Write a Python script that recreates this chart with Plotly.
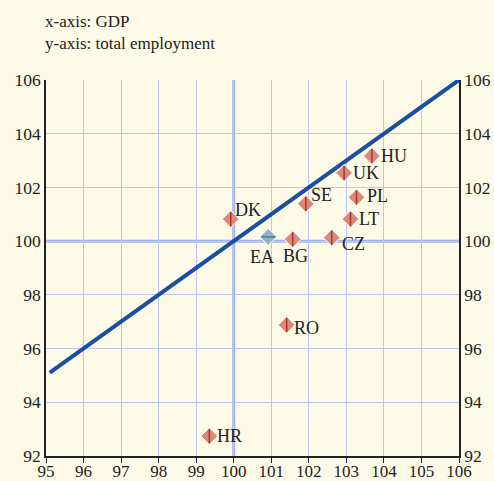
import plotly.graph_objects as go

countries = ["HU", "UK", "PL", "LT", "CZ", "SE", "DK", "BG", "RO", "HR"]
gdp = [103.68, 102.94, 103.27, 103.11, 102.61, 101.92, 99.92, 101.57, 101.41, 99.35]
employment = [103.17, 102.54, 101.63, 100.82, 100.13, 101.39, 100.82, 100.07, 96.88, 92.74]

ea_label = ["EA"]
ea_gdp = [100.92]
ea_employment = [100.16]

diag_x = [95.1, 106.0]
diag_y = [95.1, 106.0]

x_ticks = list(range(95, 107))
y_ticks = list(range(92, 107, 2))

# label offsets in pixels (xshift, yshift, xanchor)
label_offsets = {
    "HU": (7, 0, "left"), "UK": (7, 0, "left"), "PL": (8, 1, "left"),
    "LT": (7, 0, "left"), "CZ": (8, -6, "left"), "SE": (3, 9, "left"),
    "DK": (2, 9, "left"), "BG": (3, -17, "center"), "RO": (5, -3, "left"),
    "HR": (6, 0, "left"), "EA": (-6, -20, "center"),
}

BG = "#fdfbe7"
GRID = "#bcc6ef"
FONT = "Liberation Serif"

fig = go.Figure()

fig.add_trace(go.Scatter(x=diag_x, y=diag_y, mode="lines",
                         line=dict(color="#1a4ea3", width=4), hoverinfo="skip"))

fig.add_trace(go.Scatter(x=gdp, y=employment, mode="markers",
                         marker=dict(symbol="diamond", size=13, color="#da8a78",
                                     line=dict(color="white", width=1))))
fig.add_trace(go.Scatter(x=gdp, y=employment, mode="markers",
                         marker=dict(symbol="line-ns", size=10,
                                     line=dict(color="#b0322c", width=1.5))))
fig.add_trace(go.Scatter(x=ea_gdp, y=ea_employment, mode="markers",
                         marker=dict(symbol="diamond", size=13, color="#92b3c3",
                                     line=dict(color="white", width=1))))
fig.add_trace(go.Scatter(x=ea_gdp, y=ea_employment, mode="markers",
                         marker=dict(symbol="line-ew", size=10,
                                     line=dict(color="#4d7d92", width=1.5))))

for name, xv, yv in list(zip(countries, gdp, employment)) + list(zip(ea_label, ea_gdp, ea_employment)):
    xs, ys, xa = label_offsets[name]
    fig.add_annotation(x=xv, y=yv, text=name, showarrow=False, xanchor=xa, yanchor="middle",
                       xshift=xs, yshift=ys, font=dict(family=FONT, size=18, color="#222222"))

# emphasized 100 lines
fig.add_shape(type="line", x0=100, x1=100, y0=92, y1=106, xref="x", yref="y",
              line=dict(color="#a4b2ea", width=3), layer="below")
fig.add_shape(type="line", x0=95, x1=106, y0=100, y1=100, xref="x", yref="y",
              line=dict(color="#a4b2ea", width=3), layer="below")

fig.add_annotation(xref="paper", yref="paper", x=0, y=1 + 58 / 376, xanchor="left", yanchor="middle",
                   xshift=-3, text="x-axis: GDP", showarrow=False,
                   font=dict(family=FONT, size=17, color="#222222"))
fig.add_annotation(xref="paper", yref="paper", x=0, y=1 + 37 / 376, xanchor="left", yanchor="middle",
                   xshift=-3, text="y-axis: total employment", showarrow=False,
                   font=dict(family=FONT, size=17, color="#222222"))

tickfont = dict(family=FONT, size=17.5, color="#222222")
xtickfont = dict(family=FONT, size=17, color="#222222")
fig.update_layout(
    width=494, height=481,
    margin=dict(l=46, r=35, t=80, b=25),
    paper_bgcolor=BG, plot_bgcolor=BG,
    showlegend=False,
    xaxis=dict(range=[95, 106], tickvals=x_ticks, ticktext=[str(v) for v in x_ticks],
               showgrid=True, gridcolor=GRID, gridwidth=1.2, zeroline=False,
               showline=True, linecolor="#222222", linewidth=1.5, automargin=False,
               ticks="outside", ticklen=5, tickcolor="#222222", tickfont=xtickfont,
               ticklabelstandoff=-6),
    yaxis=dict(range=[92, 106], tickvals=y_ticks, ticktext=[str(v) for v in y_ticks],
               showgrid=True, gridcolor=GRID, gridwidth=1.2, zeroline=False,
               showline=True, linecolor="#222222", linewidth=1.5, automargin=False,
               ticks="", tickfont=tickfont),
    yaxis2=dict(range=[92, 106], tickvals=y_ticks, ticktext=[str(v) for v in y_ticks],
                overlaying="y", side="right", showgrid=False, zeroline=False,
                showline=True, linecolor="#222222", linewidth=1.5, automargin=False,
                ticks="", tickfont=tickfont),
)
fig.add_trace(go.Scatter(x=[95], y=[92], yaxis="y2", mode="markers",
                         marker=dict(opacity=0), hoverinfo="skip"))

fig.write_html("out.html", config={"displayModeBar": False},
               post_script="document.body.style.margin='0';document.body.style.overflow='hidden';")
